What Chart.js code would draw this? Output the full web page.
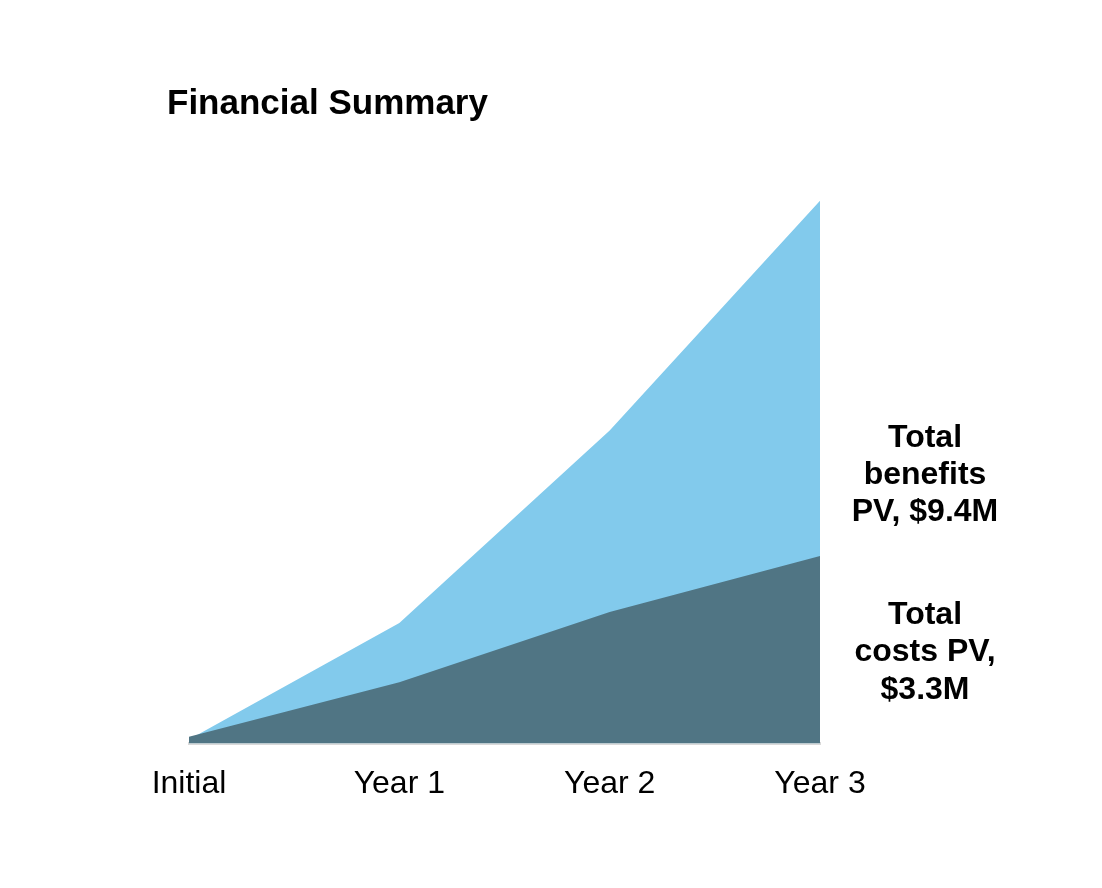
<!DOCTYPE html>
<html>
<head>
<meta charset="utf-8">
<script src="https://cdn.jsdelivr.net/npm/chart.js@4"></script>
<style>
  body { margin: 0; background: #fff; }
  #wrap { width: 1102px; height: 888px; position: relative; }
</style>
</head>
<body>
<div id="wrap"><canvas id="summary"></canvas></div>
<script>
// 값은 백만 달러 단위 (누적 PV)
const periods = ['Initial', 'Year 1', 'Year 2', 'Year 3'];
const benefits = [0.07, 2.09, 5.42, 9.4];
const costs = [0.12, 1.06, 2.28, 3.25];
const benefitsNote = ['Total', 'benefits', 'PV, $9.4M'];
const costsNote = ['Total', 'costs PV,', '$3.3M'];

const font = '"Liberation Sans", Arial, sans-serif';

// 제목과 오른쪽 설명 텍스트
const notes = {
  id: 'notes',
  afterDraw(chart) {
    const ctx = chart.ctx;
    const area = chart.chartArea;
    ctx.save();
    ctx.fillStyle = '#000';
    ctx.textBaseline = 'middle';

    ctx.font = 'bold 35px ' + font;
    ctx.textAlign = 'left';
    ctx.fillText('Financial Summary', 167, 104);

    ctx.font = 'bold 32px ' + font;
    ctx.textAlign = 'center';
    const cx = area.right + 105;
    benefitsNote.forEach((t, i) => ctx.fillText(t, cx, 438 + i * 37));
    costsNote.forEach((t, i) => ctx.fillText(t, cx, 615 + i * 37.5));
    ctx.restore();
  }
};

new Chart(document.getElementById('summary'), {
  type: 'line',
  data: {
    labels: periods,
    datasets: [{
      label: 'Total costs PV',
      data: costs,
      backgroundColor: '#507584',
      borderWidth: 0,
      pointRadius: 0,
      fill: 'origin',
      order: 1
    }, {
      label: 'Total benefits PV',
      data: benefits,
      backgroundColor: '#82CAEC',
      borderWidth: 0,
      pointRadius: 0,
      fill: 'origin',
      order: 2
    }]
  },
  options: {
    responsive: true,
    maintainAspectRatio: false,
    animation: false,
    layout: { padding: { left: 189, right: 282, top: 166, bottom: 64 } },
    plugins: {
      legend: { display: false },
      tooltip: { enabled: false }
    },
    scales: {
      x: {
        offset: false,
        grid: { display: false, drawTicks: false },
        border: { display: true, color: '#d9d9d9', width: 3 },
        ticks: {
          color: '#000',
          padding: 21,
          autoSkip: false,
          maxRotation: 0,
          font: { family: font, size: 32 }
        }
      },
      y: {
        display: false,
        min: 0,
        max: 10
      }
    }
  },
  plugins: [notes]
});
</script>
</body>
</html>
